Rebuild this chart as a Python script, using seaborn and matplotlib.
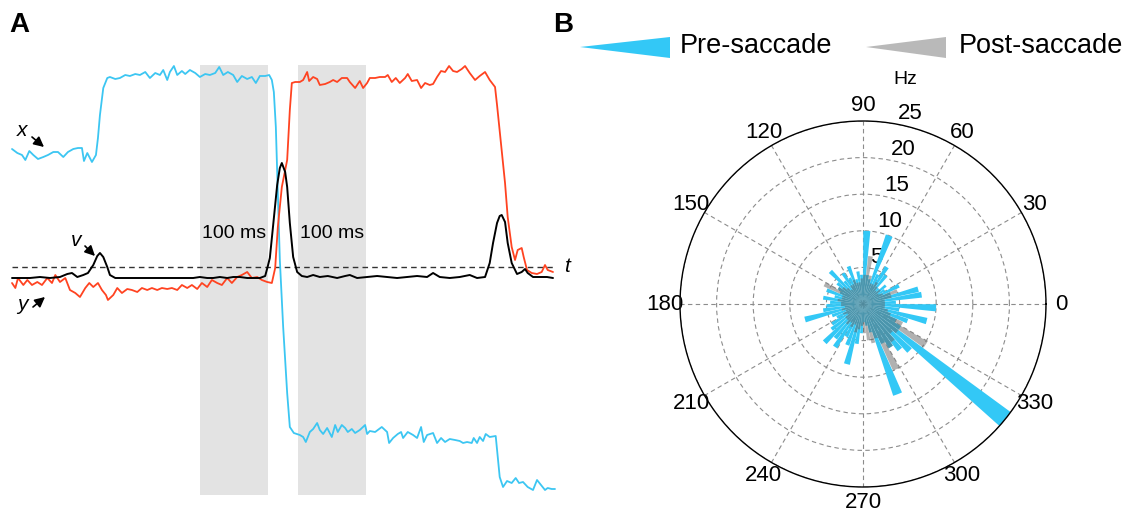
import numpy as np
import matplotlib
matplotlib.use("Agg")
import matplotlib.pyplot as plt
import seaborn as sns
from matplotlib.patches import Polygon

# ---------------- data: panel A (time in ms, positions/velocity in arbitrary units) --------------
t_x = [0, 8, 15, 20, 26, 32, 39, 47, 54, 62,
       69, 77, 84, 92, 99, 105, 108, 113, 120, 126,
       129, 132, 137, 143, 147, 155, 162, 170, 177, 185,
       192, 200, 207, 215, 222, 227, 233, 237, 243, 248,
       255, 260, 267, 275, 282, 290, 297, 305, 311, 317,
       324, 332, 338, 345, 353, 360, 366, 372, 380, 386,
       390, 393, 396, 399, 402, 407, 413, 417, 423, 432,
       437, 441, 447, 452, 458, 462, 467, 473, 480, 485,
       489, 495, 500, 504, 510, 515, 522, 530, 533, 537,
       545, 555, 563, 566, 572, 579, 584, 587, 594, 602,
       608, 614, 618, 623, 632, 638, 644, 650, 657, 665,
       672, 677, 683, 690, 693, 698, 702, 707, 711, 717,
       726, 728, 732, 737, 743, 750, 756, 761, 767, 774,
       782, 788, 794, 800, 804, 810, 815]
pos_x = [118, 114, 112, 107, 116, 112, 108, 110, 112, 115,
         115, 110, 115, 118, 119, 119, 106, 114, 105, 112,
         129, 152, 179, 189, 190, 188, 189, 192, 191, 193,
         192, 195, 189, 194, 192, 197, 187, 195, 201, 192,
         196, 193, 197, 194, 190, 193, 192, 194, 200, 192,
         195, 192, 185, 191, 188, 190, 184, 191, 191, 192,
         187, 175, 140, 74, 7, -60, -126, -160, -166, -168,
         -170, -175, -165, -162, -156, -163, -167, -161, -170, -158,
         -165, -158, -161, -165, -162, -166, -163, -158, -167, -164,
         -165, -160, -165, -176, -171, -167, -165, -171, -165, -168,
         -171, -160, -175, -168, -166, -176, -171, -175, -172, -173,
         -174, -176, -175, -176, -171, -176, -170, -174, -167, -170,
         -169, -183, -210, -220, -214, -216, -211, -216, -215, -220,
         -223, -213, -218, -223, -221, -222, -222]

t_y = [0, 5, 9, 17, 23, 30, 38, 45, 53, 60,
       65, 72, 80, 87, 95, 102, 110, 116, 122, 129,
       135, 141, 144, 152, 158, 165, 173, 180, 188, 195,
       203, 210, 218, 225, 233, 240, 248, 255, 263, 270,
       278, 285, 293, 300, 308, 315, 323, 330, 338, 345,
       353, 360, 368, 375, 383, 390, 395, 399, 405, 410,
       413, 417, 420, 425, 432, 437, 443, 446, 452, 458,
       462, 470, 477, 482, 488, 495, 503, 507, 515, 522,
       527, 533, 537, 545, 552, 560, 564, 570, 576, 582,
       590, 594, 600, 608, 614, 620, 627, 632, 638, 644,
       650, 656, 662, 668, 675, 680, 687, 695, 702, 710,
       717, 725, 728, 735, 740, 744, 750, 755, 759, 765,
       768, 773, 780, 788, 795, 800, 804, 812]
pos_y = [-16, -21, -11, -18, -13, -18, -15, -18, -11, -16,
         -8, -15, -11, -23, -26, -30, -21, -16, -20, -16,
         -23, -28, -33, -28, -21, -26, -22, -23, -25, -21,
         -23, -21, -23, -21, -22, -21, -23, -18, -21, -18,
         -22, -16, -20, -13, -16, -18, -11, -16, -10, -8,
         -5, -11, -10, -13, -15, -16, -1, 40, 80, 97,
         107, 157, 184, 185, 185, 187, 195, 186, 190, 188,
         182, 183, 185, 187, 185, 189, 189, 185, 179, 186,
         179, 184, 189, 189, 190, 190, 192, 185, 189, 184,
         189, 193, 186, 187, 179, 184, 182, 183, 190, 196,
         195, 201, 196, 195, 198, 201, 194, 187, 191, 195,
         187, 180, 162, 117, 84, 50, 20, 7, 17, 19,
         10, -3, -6, -7, -5, 2, -3, -5]

t_v = [0, 12, 27, 42, 57, 72, 83, 90, 98, 107,
       114, 122, 128, 132, 137, 143, 147, 155, 173, 192,
       212, 233, 252, 272, 282, 293, 302, 312, 323, 332,
       342, 353, 362, 372, 380, 384, 387, 392, 398, 402,
       405, 410, 413, 417, 422, 428, 435, 443, 452, 462,
       474, 488, 500, 507, 518, 533, 548, 563, 578, 593,
       608, 623, 632, 642, 657, 672, 687, 698, 710, 717,
       722, 728, 732, 735, 740, 744, 750, 758, 765, 770,
       774, 782, 792, 803, 812]
vel = [-11, -11, -11, -10, -11, -10, -7, -6, -10, -8,
       -6, 2, 11, 14, 10, 0, -8, -11, -11, -11,
       -11, -11, -11, -11, -10, -11, -11, -10, -11, -10,
       -10, -11, -11, -11, -9, 1, 9, 42, 82, 99,
       104, 95, 80, 44, 10, -5, -9, -10, -8, -10,
       -9, -11, -9, -8, -11, -10, -9, -10, -11, -10,
       -9, -10, -6, -10, -11, -10, -8, -11, -10, 4,
       24, 44, 51, 52, 45, 24, 4, -7, -5, -2,
       -6, -10, -10, -10, -11]

threshold = 0
windows = [(282, 384), (430, 532)]
window_label = "100 ms"
window_top, window_bottom = 202, -228

# ---------------- data: panel B (firing rate per direction bin, Hz) ----------------
bin_centres_deg = list(range(3, 360, 6))
pre_hz = [4.5, 8.1, 7.8, 4.0, 5.5, 3.5, 4.0, 3.0, 5.0, 6.0,
          4.5, 10.0, 3.5, 4.0, 10.0, 4.0, 4.5, 3.5, 5.5, 4.0,
          5.0, 4.0, 6.3, 4.5, 4.0, 3.5, 5.3, 4.0, 5.5, 4.5,
          5.0, 5.5, 8.2, 4.5, 4.0, 5.0, 5.5, 7.4, 6.0, 7.0,
          5.0, 6.0, 8.5, 5.5, 4.0, 2.5, 3.0, 4.0, 13.2, 6.0,
          7.0, 8.0, 9.0, 25.0, 6.0, 5.0, 6.5, 9.0, 5.0, 10.0]
post_hz = [3.0, 3.0, 4.0, 5.0, 3.0, 2.5, 3.0, 2.5, 3.0, 3.5,
           3.0, 3.0, 4.0, 6.6, 4.0, 3.5, 3.0, 3.0, 3.5, 3.0,
           3.0, 2.5, 3.0, 3.5, 4.0, 5.9, 3.0, 3.0, 3.5, 3.0,
           3.0, 2.5, 3.0, 2.5, 3.0, 2.5, 3.0, 3.0, 3.5, 3.0,
           3.5, 3.0, 4.0, 3.5, 3.0, 4.0, 5.0, 5.5, 5.0, 10.0,
           7.0, 6.5, 5.5, 6.0, 10.2, 6.0, 4.0, 3.5, 3.0, 3.0]
r_ticks = [5, 10, 15, 20, 25]
theta_ticks = list(range(0, 360, 30))
series_names = ["Pre-saccade", "Post-saccade"]

# ---------------- style ----------------
BLUE_T = "#3cc6f2"
RED_T = "#ff4321"
BLUE_B = "#33c8f6"
GRAY_B = "#646464"

sns.set_theme(style="white")
plt.rcParams["font.family"] = ["Liberation Sans", "DejaVu Sans"]
plt.rcParams["text.color"] = "black"
plt.rcParams["xtick.color"] = "black"
plt.rcParams["ytick.color"] = "black"
plt.rcParams["xtick.labelcolor"] = "black"
plt.rcParams["ytick.labelcolor"] = "black"

W, H = 1140, 519
fig = plt.figure(figsize=(W / 100, H / 100), dpi=100)

# ---------------- panel A ----------------
axa = fig.add_axes([10 / W, 19 / H, 550 / W, 440 / H])
for a, b in windows:
    axa.fill_between([a, b], window_bottom, window_top, color="#e3e3e3", lw=0, zorder=0)
    axa.text((a + b) / 2, 34, window_label, ha="center", va="center", fontsize=14, color="black", zorder=1)
axa.plot([t_v[0], t_v[-1]], [threshold, threshold], ls=(0, (4, 3)), color="#333333", lw=1.0, zorder=2)
sns.lineplot(x=t_x, y=pos_x, ax=axa, color=BLUE_T, lw=1.3, zorder=3)
sns.lineplot(x=t_y, y=pos_y, ax=axa, color=RED_T, lw=1.3, zorder=4)
sns.lineplot(x=t_v, y=vel, ax=axa, color="black", lw=1.4, zorder=5)
axa.set_xlim(-3, 822.5)
axa.set_ylim(-233, 207)
axa.axis("off")

# ---------------- panel B ----------------
axp = fig.add_axes([680 / W, 32 / H, 366 / W, 366 / H], projection="polar")
theta = np.deg2rad(bin_centres_deg)
axp.set_axisbelow(True)
axp.bar(theta, pre_hz, width=np.deg2rad(5.6), color=BLUE_B, edgecolor="none", zorder=2)
axp.bar(theta, post_hz, width=np.deg2rad(5.6), color=GRAY_B, alpha=0.5, edgecolor="none", zorder=3)
axp.set_ylim(0, 25)
axp.set_thetagrids(theta_ticks, [str(a) for a in theta_ticks], fontsize=16)
axp.set_rgrids(r_ticks, [str(r) for r in r_ticks], angle=79, fontsize=16)
axp.grid(True, linestyle=(0, (4, 3)), color="#8c8c8c", lw=0.8)
axp.spines["polar"].set_color("black")
axp.spines["polar"].set_linewidth(1.0)
axp.tick_params(axis="x", pad=-2)
axp.set_facecolor("white")

# ---------------- overlay: letters, labels, legend ----------------
ov = fig.add_axes([0, 0, 1, 1], zorder=10)
ov.set_xlim(0, W)
ov.set_ylim(H, 0)
ov.axis("off")
ov.patch.set_alpha(0)

ov.text(19, 25, "A", fontsize=20, fontweight="bold", ha="center", va="center")
ov.text(563, 25, "B", fontsize=20, fontweight="bold", ha="center", va="center")

arrow = dict(arrowstyle="-|>,head_length=0.5,head_width=0.25", color="black", lw=1.2, shrinkA=0, shrinkB=0)
ov.text(22, 130, "x", fontsize=15, style="italic", ha="center", va="center")
ov.annotate("", xy=(44, 147), xytext=(32, 137), arrowprops=arrow)
ov.text(76, 241, "v", fontsize=15, style="italic", ha="center", va="center")
ov.annotate("", xy=(95, 256), xytext=(85, 246), arrowprops=arrow)
ov.text(22, 305, "y", fontsize=15, style="italic", ha="center", va="center")
ov.annotate("", xy=(45, 297), xytext=(33, 307), arrowprops=arrow)
ov.text(567, 267, "t", fontsize=15, style="italic", ha="center", va="center")

ov.text(905, 79, "Hz", fontsize=14, ha="center", va="center")

ov.add_patch(Polygon([(580, 47), (670, 37), (670, 58)], closed=True, color=BLUE_B, lw=0))
ov.text(680, 46, series_names[0], fontsize=19.5, ha="left", va="center")
ov.add_patch(Polygon([(866, 47), (946, 37), (946, 58)], closed=True, color="#b9b9b9", lw=0))
ov.text(959, 46, series_names[1], fontsize=19.5, ha="left", va="center")

fig.savefig("out.png", dpi=100, facecolor="white")
